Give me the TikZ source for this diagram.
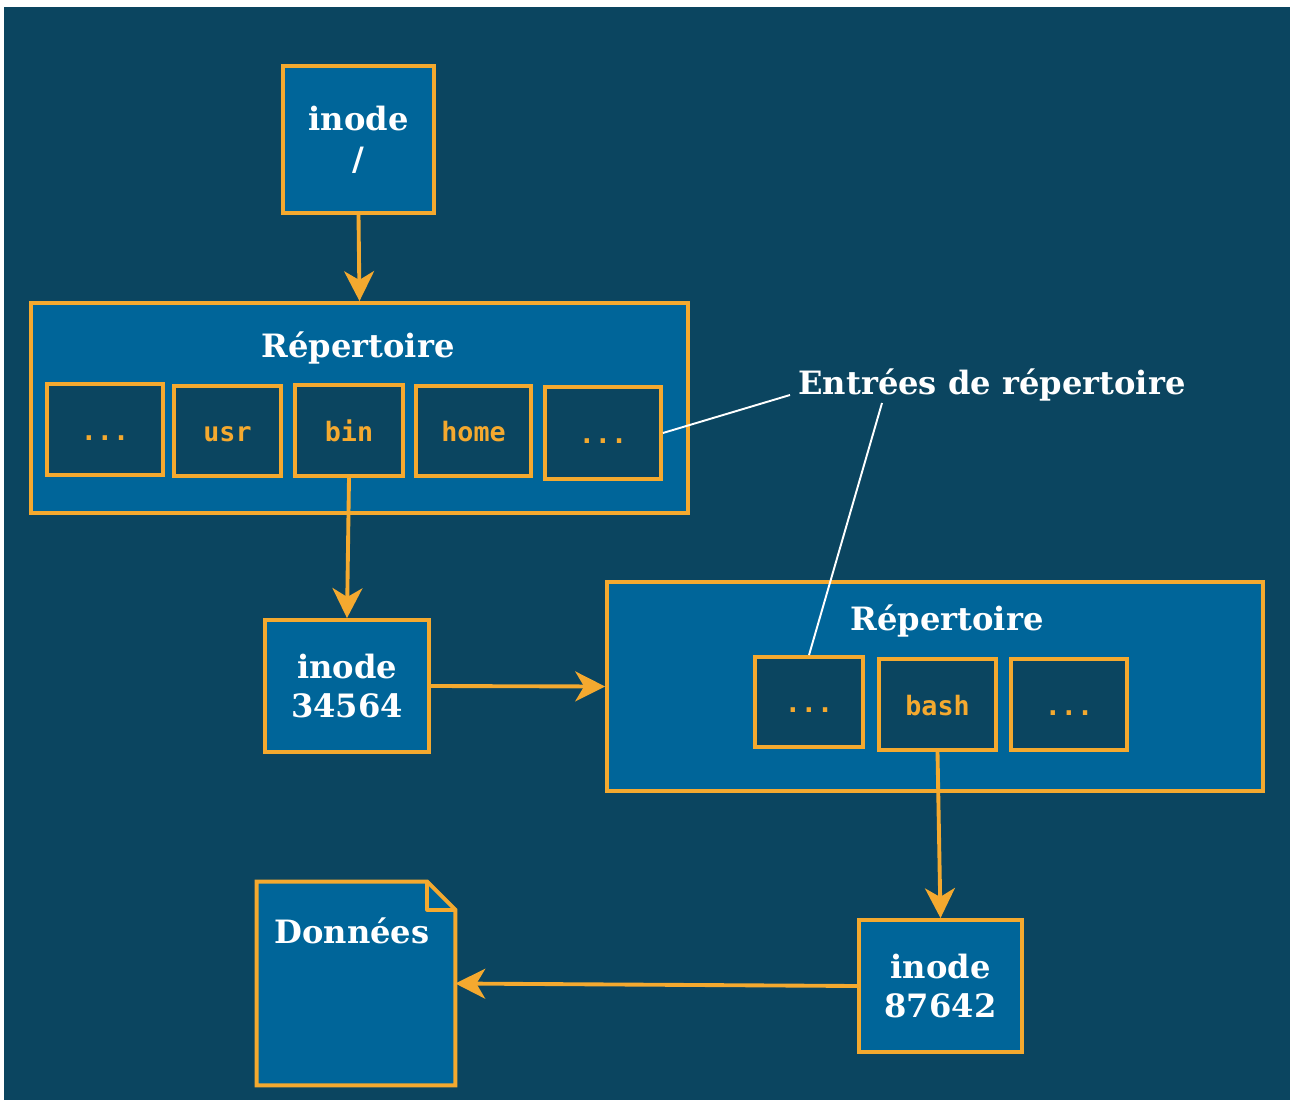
\documentclass[tikz,border=0pt]{standalone}
\usepackage{fontspec}
\setmainfont{DejaVu Serif}
\setmonofont{DejaVu Sans Mono}
\usetikzlibrary{arrows.meta}

\definecolor{fond}{RGB}{11,69,96}
\definecolor{bleu}{RGB}{0,101,153}
\definecolor{orange}{RGB}{244,169,47}

\tikzset{
    boite/.style={draw=orange,fill=bleu,line width=2.2pt,inner sep=0pt},
    entree/.style={draw=orange,fill=fond,line width=2.2pt,inner sep=0pt,
        text height=12pt,text depth=0pt,
        font=\fontsize{15.2}{18}\selectfont\ttfamily\bfseries,text=orange},
    titre/.style={text=white,font=\fontsize{18.3}{22.7}\selectfont\bfseries,align=center},
    fleche/.style={draw=orange,line width=2.2pt,-{Stealth[length=17pt,width=17pt,inset=5pt]}},
    renvoi/.style={draw=white,line width=1.1pt}
}

\begin{document}
\begin{tikzpicture}[x=0.02cm,y=-0.02cm]
            \useasboundingbox (0,0) rectangle (1293,1104);
            \fill[fond](4,7) rectangle (1290,1100);

            % inode racine
            \node[boite,titre,minimum width=3.02cm,minimum height=2.94cm] (inoderacine) at (358.5,139.5){inode\\/};

            % premier repertoire
            \node[boite,minimum width=13.14cm,minimum height=4.2cm] (rep1) at (359.5,408){};
            \node[titre] (rep1titre) at (358,348){Répertoire};
            \node[entree,minimum width=2.32cm,minimum height=1.82cm] (r1a) at (105,429.5){...};
            \node[entree,minimum width=2.14cm,minimum height=1.8cm] (r1usr) at (227.5,431){usr};
            \node[entree,minimum width=2.16cm,minimum height=1.82cm] (r1bin) at (349,430.5){bin};
            \node[entree,minimum width=2.3cm,minimum height=1.8cm] (r1home) at (473.5,431){home};
            \node[entree,minimum width=2.32cm,minimum height=1.84cm] (r1b) at (603,433){...};

            % inode 34564
            \node[boite,titre,minimum width=3.28cm,minimum height=2.64cm] (inodebin) at (347,686){inode\\34564};

            % second repertoire
            \node[boite,minimum width=13.12cm,minimum height=4.18cm] (rep2) at (935,686.5){};
            \node[titre] (rep2titre) at (947,621){Répertoire};
            \node[entree,minimum width=2.16cm,minimum height=1.8cm] (r2a) at (809,702){...};
            \node[entree,minimum width=2.34cm,minimum height=1.82cm] (r2bash) at (937.5,704.5){bash};
            \node[entree,minimum width=2.32cm,minimum height=1.82cm] (r2b) at (1069,704.5){...};

            % inode 87642
            \node[boite,titre,minimum width=3.26cm,minimum height=2.64cm] (inodebash) at (940.5,986){inode\\87642};

            % donnees
            \node[minimum width=3.96cm,minimum height=4.06cm,inner sep=0pt] (donnees) at (356,983.5){};
            \draw[boite] (donnees.north west) -- ([xshift=-0.56cm]donnees.north east)
                -- ([yshift=-0.56cm]donnees.north east) -- (donnees.south east)
                -- (donnees.south west) -- cycle;
            \draw[draw=orange,line width=2.2pt,line join=round] ([xshift=-0.56cm]donnees.north east)
                -- ([xshift=-0.56cm,yshift=-0.56cm]donnees.north east) -- ([yshift=-0.56cm]donnees.north east);
            \node[titre] (donneestitre) at (352,931){Données};

            % fleches
            \draw[fleche](inoderacine.south) -- (rep1.north);
            \draw[fleche](r1bin.south) -- (inodebin.north);
            \draw[fleche](inodebin.east) -- (rep2.west);
            \draw[fleche](r2bash.south) -- (inodebash.north);
            \draw[fleche](inodebash.west) -- (donnees.east);

            % entrees de repertoire
            \node[titre] (entrees) at (992,385){Entrées de répertoire};
            \coordinate (renvoi1) at (790,395);
            \coordinate (renvoi2) at (882,403);
            \draw[renvoi](renvoi1) -- (r1b.east);
            \draw[renvoi](renvoi2) -- (r2a.north);
        \end{tikzpicture}
\end{document}
